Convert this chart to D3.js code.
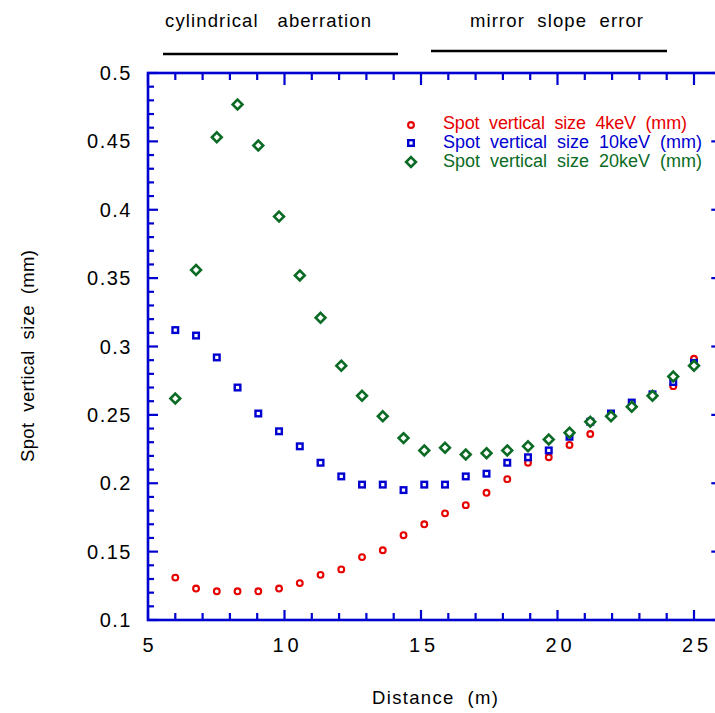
<!DOCTYPE html>
<html><head><meta charset="utf-8">
<script src="https://cdn.jsdelivr.net/npm/d3@7"></script>
<style>body{margin:0;background:#fff}svg{display:block}text{font-family:"Liberation Sans",Arial,Helvetica,sans-serif;white-space:pre}</style>
</head><body>
<script>
// ---- data ----
const distance = [6.0, 6.76, 7.52, 8.28, 9.04, 9.8, 10.56, 11.32, 12.08, 12.84, 13.6, 14.36, 15.12,
  15.88, 16.64, 17.4, 18.16, 18.92, 19.68, 20.44, 21.2, 21.96, 22.72, 23.48, 24.24, 25.0];
const size4keV = [0.131, 0.123, 0.121, 0.121, 0.121, 0.123, 0.127, 0.133, 0.137, 0.146, 0.151, 0.162, 0.170,
  0.178, 0.184, 0.193, 0.203, 0.215, 0.219, 0.228, 0.236, 0.249, 0.256, 0.264, 0.271, 0.291];
const size10keV = [0.312, 0.308, 0.292, 0.270, 0.251, 0.238, 0.227, 0.215, 0.205, 0.199, 0.199, 0.195, 0.199,
  0.199, 0.205, 0.207, 0.215, 0.219, 0.224, 0.234, 0.245, 0.251, 0.259, 0.265, 0.274, 0.288];
const size20keV = [0.262, 0.356, 0.453, 0.477, 0.447, 0.395, 0.352, 0.321, 0.286, 0.264, 0.249, 0.233, 0.224,
  0.226, 0.221, 0.222, 0.224, 0.227, 0.232, 0.237, 0.245, 0.249, 0.256, 0.264, 0.278, 0.286];
const seriesNames = ["Spot  vertical  size  4keV  (mm)", "Spot  vertical  size  10keV  (mm)", "Spot  vertical  size  20keV  (mm)"];
const xTickLabels = [5, 10, 15, 20, 25];
const yTickLabels = [0.1, 0.15, 0.2, 0.25, 0.3, 0.35, 0.4, 0.45, 0.5];
const annotations = ["cylindrical   aberration", "mirror  slope  error"];
const xTitle = "Distance  (m)";
const yTitle = "Spot  vertical  size  (mm)";

// ---- layout ----
const W = 715, H = 713;
const axisColor = "#0000d0";
const colors = ["#e60000", "#0000d0", "#0b6b24"];
const svg = d3.select("body").append("svg").attr("width", W).attr("height", H);

const x = d3.scaleLinear().domain([5, 26]).range([148, 721.3]);
const y = d3.scaleLinear().domain([0.1, 0.5]).range([620, 73]);

// frame + ticks
const frame = svg.append("g").attr("stroke", axisColor).attr("fill", "none");
frame.append("rect").attr("x", x(5)).attr("y", y(0.5)).attr("width", x(26) - x(5)).attr("height", y(0.1) - y(0.5)).attr("stroke-width", 2.6);

const xMinor = d3.range(5, 27, 1);
const yMinor = d3.range(0.1, 0.5001, 0.01);
const isMajX = v => Math.abs(v % 5) < 1e-6;
const isMajY = v => Math.abs(Math.round(v * 100) % 5) < 1e-6;
xMinor.forEach(v => {
  const L = isMajX(v) ? 10 : 7;
  frame.append("line").attr("x1", x(v)).attr("x2", x(v)).attr("y1", y(0.1)).attr("y2", y(0.1) - L).attr("stroke-width", 2.2);
  const Lt = isMajX(v) ? 12 : 7;
  frame.append("line").attr("x1", x(v)).attr("x2", x(v)).attr("y1", y(0.5)).attr("y2", y(0.5) + Lt).attr("stroke-width", 2.2);
});
yMinor.forEach(v => {
  const L = isMajY(v) ? 10 : 6;
  frame.append("line").attr("x1", x(5)).attr("x2", x(5) + L).attr("y1", y(v)).attr("y2", y(v)).attr("stroke-width", 2.2);
  frame.append("line").attr("x1", x(26)).attr("x2", x(26) - L).attr("y1", y(v)).attr("y2", y(v)).attr("stroke-width", 2.2);
});

// tick labels
svg.append("g").selectAll("text").data(xTickLabels).join("text")
  .attr("x", d => x(d) + (d >= 10 ? 3 : 0)).attr("y", 652).attr("text-anchor", "middle")
  .attr("font-size", 20).attr("letter-spacing", d => d >= 10 ? 4 : 0).attr("fill", "#000").text(d => d);
svg.append("g").selectAll("text").data(yTickLabels).join("text")
  .attr("x", 132).attr("y", d => y(d) + 7).attr("text-anchor", "end")
  .attr("font-size", 20).attr("letter-spacing", 1.5).attr("fill", "#000").text(d => d);

// axis titles
svg.append("text").attr("x", 372).attr("y", 704).attr("font-size", 18.5).attr("textLength", 126)
  .attr("lengthAdjust", "spacing").text(xTitle);
svg.append("text").attr("transform", "translate(34,462) rotate(-90)").attr("font-size", 18.5)
  .attr("textLength", 212).attr("lengthAdjust", "spacing").text(yTitle);

// top annotations
svg.append("text").attr("x", 165).attr("y", 27).attr("font-size", 18.5).attr("textLength", 206)
  .attr("lengthAdjust", "spacing").text(annotations[0]);
svg.append("text").attr("x", 470).attr("y", 27).attr("font-size", 18.5).attr("textLength", 173)
  .attr("lengthAdjust", "spacing").text(annotations[1]);
svg.append("line").attr("x1", 163).attr("x2", 398).attr("y1", 54).attr("y2", 54).attr("stroke", "#000").attr("stroke-width", 2.6);
svg.append("line").attr("x1", 431).attr("x2", 667).attr("y1", 51).attr("y2", 51).attr("stroke", "#000").attr("stroke-width", 2.6);

// markers
const circle = (g, cx, cy) => g.append("circle").attr("cx", cx).attr("cy", cy).attr("r", 2.9)
  .attr("fill", "#fff").attr("stroke", colors[0]).attr("stroke-width", 2.1);
const square = (g, cx, cy) => g.append("rect").attr("x", cx - 2.8).attr("y", cy - 2.8).attr("width", 5.6).attr("height", 5.6)
  .attr("fill", "#fff").attr("stroke", colors[1]).attr("stroke-width", 2.4);
const diamond = (g, cx, cy) => g.append("path").attr("d", `M${cx},${cy - 4.9}L${cx + 4.9},${cy}L${cx},${cy + 4.9}L${cx - 4.9},${cy}Z`)
  .attr("fill", "#fff").attr("stroke", colors[2]).attr("stroke-width", 2.6);
const makers = [circle, square, diamond];
const series = [size4keV, size10keV, size20keV];

const pts = svg.append("g");
series.forEach((vals, i) => {
  vals.forEach((v, j) => makers[i](pts, x(distance[j]), y(v)));
});

// legend
const leg = svg.append("g");
const legMarkY = [125, 143, 162];
const legTextY = [129, 148, 167];
const legLen = [244, 259, 259];
seriesNames.forEach((n, i) => {
  makers[i](leg, 411, legMarkY[i]);
  leg.append("text").attr("x", 443).attr("y", legTextY[i]).attr("font-size", 18).attr("fill", colors[i])
    .attr("textLength", legLen[i]).attr("lengthAdjust", "spacing").text(n);
});
</script>
</body></html>
